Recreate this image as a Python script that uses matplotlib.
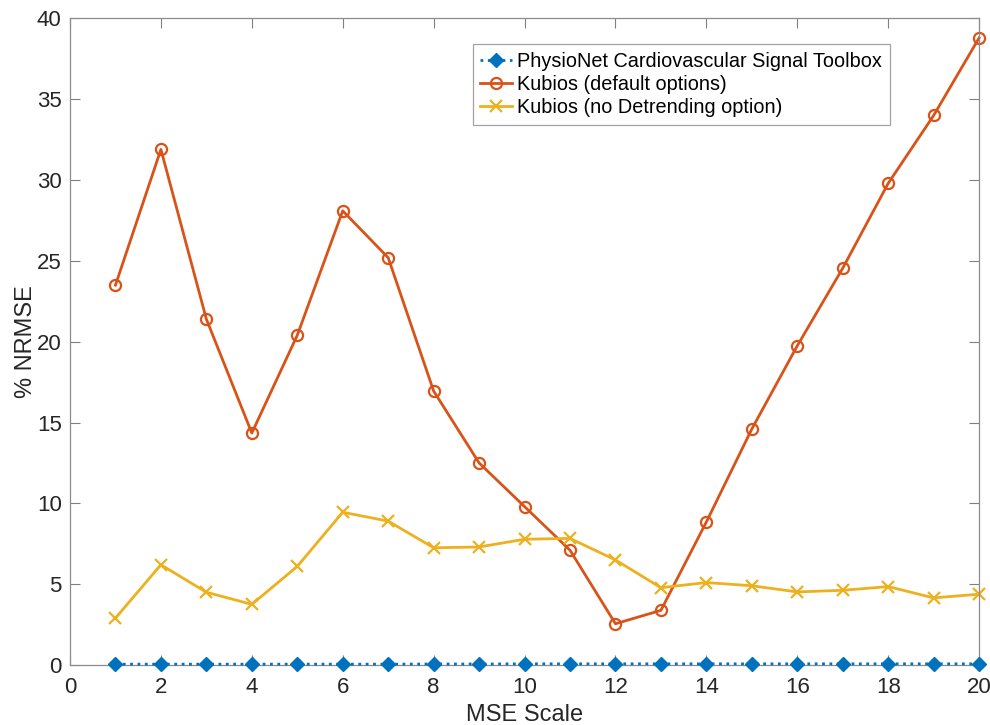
import matplotlib.pyplot as plt

plt.rcParams['font.family'] = ['Liberation Sans', 'DejaVu Sans']

# MSE scales and error per tool
scales = list(range(1, 21))
physionet = [0.05, 0.05, 0.05, 0.05, 0.05, 0.05, 0.05, 0.06, 0.06, 0.07,
             0.07, 0.07, 0.07, 0.07, 0.07, 0.07, 0.07, 0.07, 0.07, 0.07]
kubios_default = [23.5, 31.9, 21.4, 14.35, 20.4, 28.1, 25.2, 16.95, 12.5, 9.8,
                  7.1, 2.55, 3.38, 8.85, 14.6, 19.75, 24.55, 29.8, 34.0, 38.8]
kubios_nodetrend = [2.9, 6.2, 4.5, 3.75, 6.1, 9.45, 8.9, 7.25, 7.3, 7.78,
                    7.83, 6.5, 4.78, 5.1, 4.9, 4.52, 4.62, 4.85, 4.15, 4.38]

fig = plt.figure(figsize=(9.9, 7.25), dpi=100)
ax = fig.add_axes([0.0707, 0.0828, 0.9183, 0.8917])

ax.plot(scales, physionet, ':', color='#0072BD', lw=2, marker='D', ms=7,
        label='PhysioNet Cardiovascular Signal Toolbox', clip_on=False, zorder=3)
ax.plot(scales, kubios_default, '-', color='#D95319', lw=2, marker='o', ms=8,
        mfc='none', mew=1.6, label='Kubios (default options)', clip_on=False)
ax.plot(scales, kubios_nodetrend, '-', color='#EDB120', lw=2, marker='x', ms=8,
        mew=1.6, label='Kubios (no Detrending option)', clip_on=False)

ax.set_xlim(0, 20)
ax.set_ylim(0, 40)
ax.set_xticks(range(0, 21, 2))
ax.set_yticks(range(0, 41, 5))
ax.tick_params(direction='in', length=7, width=0.8, colors='#808080',
               labelcolor='#262626', labelsize=16, top=True, right=True, pad=6)
ax.tick_params(axis='x', pad=9)
for s in ax.spines.values():
    s.set_color('#8c8c8c')
    s.set_linewidth(0.9)

ax.set_xlabel('MSE Scale', fontsize=17, color='#262626', labelpad=4)
ax.set_ylabel('% NRMSE', fontsize=17, color='#262626', labelpad=-0.5)

leg = ax.legend(loc='upper right', bbox_to_anchor=(0.902, 0.961), fontsize=14.3,
                frameon=True, fancybox=False, handlelength=1.6, handletextpad=0.25,
                borderpad=0.4, labelspacing=0.2, borderaxespad=0)
leg.get_frame().set_edgecolor('#8c8c8c')
leg.get_frame().set_linewidth(0.9)

fig.savefig('out.png')
